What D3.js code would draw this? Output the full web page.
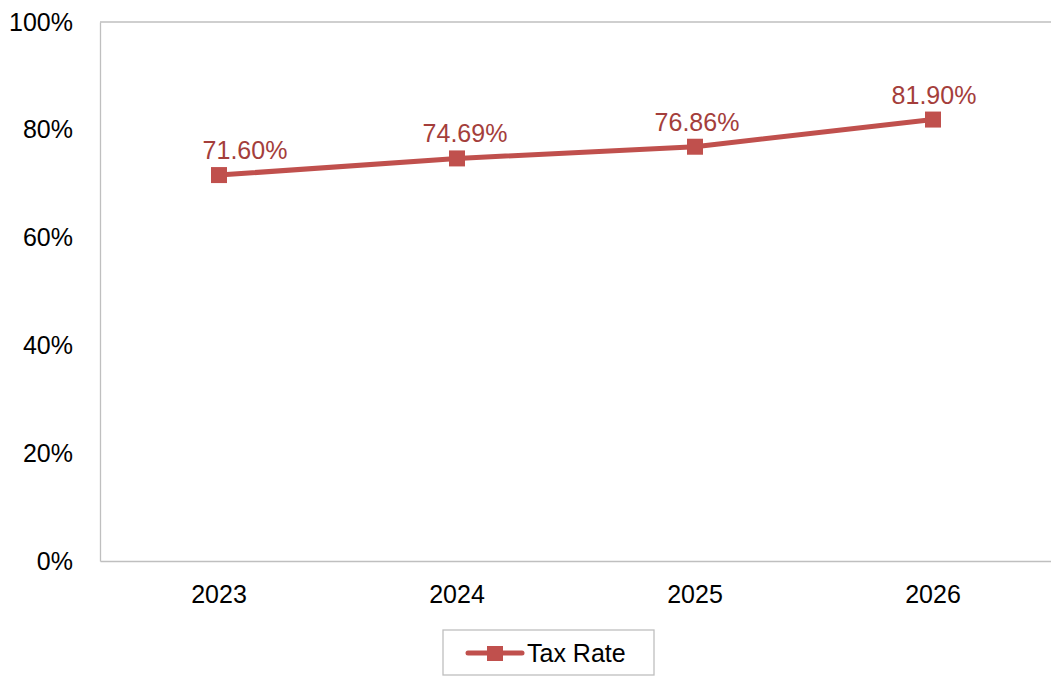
<!DOCTYPE html>
<html>
<head>
<meta charset="utf-8">
<script src="https://cdn.jsdelivr.net/npm/d3@7"></script>
<style>
  body { margin: 0; background: #fff; }
  svg { display: block; font-family: Arial, "Liberation Sans", sans-serif; }
</style>
</head>
<body>
<div id="chart"></div>
<script>
// chart values
const years = ["2023", "2024", "2025", "2026"];
const taxRate = [71.60, 74.69, 76.86, 81.90];
const yTicks = [0, 20, 40, 60, 80, 100];
const seriesName = "Tax Rate";

// data labels were nudged by hand in the original, shift them the same way
const labelNudge = [26, 8, 2, 1];

const svgWidth = 1051;
const svgHeight = 677;
const margin = { top: 22, right: -1, bottom: 116, left: 100 };

const lineColor = "#C0504D";
const labelColor = "#A43E3B";
const axisColor = "#BFBFBF";
const fontSize = "25px";

const svg = d3.select("#chart").append("svg")
    .attr("width", svgWidth)
    .attr("height", svgHeight);

const x = d3.scaleBand()
    .domain(years)
    .range([margin.left, svgWidth - margin.right])
    .padding(0);

const y = d3.scaleLinear()
    .domain([0, 100])
    .range([svgHeight - margin.bottom, margin.top]);

// plot frame: top line + left/bottom axes
svg.append("line")
    .attr("x1", margin.left).attr("x2", svgWidth)
    .attr("y1", y(100)).attr("y2", y(100))
    .attr("stroke", axisColor).attr("stroke-width", 1.3);

const yAxis = g => g
    .attr("transform", `translate(${margin.left},0)`)
    .call(d3.axisLeft(y).tickValues(yTicks).tickSize(0).tickPadding(27).tickFormat(d => d + "%"))
    .call(g => g.select(".domain").attr("stroke", axisColor).attr("stroke-width", 1.3))
    .call(g => g.selectAll("text").style("font-size", fontSize).attr("fill", "#000"));

const xAxis = g => g
    .attr("transform", `translate(0,${y(0)})`)
    .call(d3.axisBottom(x).tickSize(0).tickPadding(24))
    .call(g => g.select(".domain").attr("stroke", axisColor).attr("stroke-width", 1.3))
    .call(g => g.selectAll("text").style("font-size", fontSize).attr("fill", "#000"));

svg.append("g").call(yAxis);
svg.append("g").call(xAxis);

const pts = years.map((yr, i) => ({ year: yr, value: taxRate[i], nudge: labelNudge[i] }));
const cx = d => x(d.year) + x.bandwidth() / 2;

svg.append("path")
    .datum(pts)
    .attr("fill", "none")
    .attr("stroke", lineColor)
    .attr("stroke-width", 5)
    .attr("stroke-linejoin", "round")
    .attr("d", d3.line().x(cx).y(d => y(d.value)));

const ms = 16;
svg.append("g")
    .attr("fill", lineColor)
    .selectAll("rect")
    .data(pts)
    .join("rect")
    .attr("x", d => cx(d) - ms / 2)
    .attr("y", d => y(d.value) - ms / 2)
    .attr("width", ms)
    .attr("height", ms);

svg.append("g")
    .attr("fill", labelColor)
    .attr("text-anchor", "middle")
    .style("font-size", fontSize)
    .selectAll("text")
    .data(pts)
    .join("text")
    .attr("x", d => cx(d) + d.nudge)
    .attr("y", d => y(d.value) - 16)
    .text(d => d.value.toFixed(2) + "%");

// legend
const lg = svg.append("g").attr("transform", "translate(443,630)");
lg.append("rect")
    .attr("width", 211).attr("height", 45)
    .attr("fill", "#fff").attr("stroke", axisColor).attr("stroke-width", 1.3);
lg.append("line")
    .attr("x1", 25).attr("x2", 79).attr("y1", 23).attr("y2", 23)
    .attr("stroke", lineColor).attr("stroke-width", 5).attr("stroke-linecap", "round");
lg.append("rect")
    .attr("x", 44).attr("y", 16).attr("width", 16).attr("height", 15)
    .attr("fill", lineColor);
lg.append("text")
    .attr("x", 84).attr("y", 32)
    .style("font-size", fontSize)
    .attr("fill", "#000")
    .text(seriesName);
</script>
</body>
</html>
